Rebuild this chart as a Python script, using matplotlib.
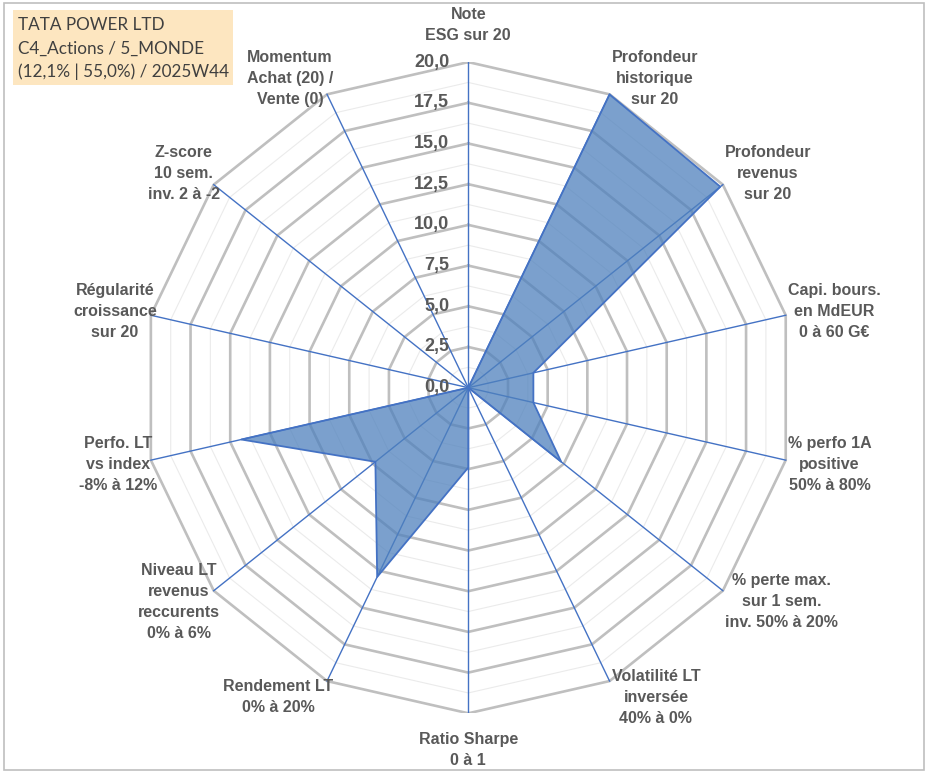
import numpy as np
import matplotlib
matplotlib.use("Agg")
from matplotlib import pyplot as plt
from matplotlib.patches import Rectangle

# axes of the radar, clockwise from the top
labels = [
    "Note\nESG sur 20",
    "Profondeur\nhistorique\nsur 20",
    "Profondeur\nrevenus\nsur 20",
    "Capi. bours.\nen MdEUR\n0 à 60 G€",
    "% perfo 1A\npositive\n50% à 80%",
    "% perte max.\nsur 1 sem.\ninv. 50% à 20%",
    "Volatilité LT\ninversée\n40% à 0%",
    "Ratio Sharpe\n0 à 1",
    "Rendement LT\n0% à 20%",
    "Niveau LT\nrevenus\nreccurents\n0% à 6%",
    "Perfo. LT\nvs index\n-8% à 12%",
    "Régularité\ncroissance\nsur 20",
    "Z-score\n10 sem.\ninv. 2 à -2",
    "Momentum\nAchat (20) /\nVente (0)",
]
scores = [0, 20, 19.8, 4.1, 4.1, 7.3, 0, 4.9, 12.9, 7.3, 14.3, 0, 0, 0]
ticks = [0, 2.5, 5, 7.5, 10, 12.5, 15, 17.5, 20]
title_lines = ["TATA POWER LTD", "C4_Actions / 5_MONDE", "(12,1% | 55,0%) / 2025W44"]

W, H = 933, 776
cx, cy, R = 468.3, 387.7, 325.6   # centre and radius in pixels

fig = plt.figure(figsize=(W / 100, H / 100), dpi=100)
fig.patch.set_facecolor("w")
ax = fig.add_axes([(cx - R) / W, (H - cy - R) / H, 2 * R / W, 2 * R / H])
ax.set_xlim(-20, 20)
ax.set_ylim(-20, 20)
ax.set_axis_off()

n = len(labels)
theta = np.arange(n) * 2 * np.pi / n
s, c = np.sin(theta), np.cos(theta)
s_closed, c_closed = np.append(s, s[0]), np.append(c, c[0])

# polygon gridlines
for lvl in np.arange(1.25, 20.01, 1.25):
    major = abs(lvl / 2.5 - round(lvl / 2.5)) < 1e-9
    ax.plot(lvl * s_closed, lvl * c_closed,
            color="#BFBFBF" if major else "#EBEBEB",
            lw=1.9 if major else 0.8, zorder=1)

# spokes
for si, ci in zip(s, c):
    ax.plot([0, 20 * si], [0, 20 * ci], color="#4472C4", lw=1.0, zorder=2)

# data
vals = np.array(scores + scores[:1])
ax.fill(vals * s_closed, vals * c_closed, facecolor="#4F81BD", alpha=0.75,
        edgecolor="none", zorder=3)
ax.plot(vals * s_closed, vals * c_closed, color="#4472C4", lw=1.3, zorder=4)

# radial tick labels
for v in ticks:
    ax.annotate(f"{v:.1f}".replace(".", ","), xy=(0, v), xytext=(-19, 0),
                textcoords="offset pixels", ha="right", va="center",
                fontsize=13, fontweight="bold", color="#595959",
                family="Liberation Sans", zorder=5)

# category labels (right side sits just outside, left side overlaps a bit)
for lab, si, ci in zip(labels, s, c):
    if abs(si) > 0.1:
        ha = "left" if si > 0 else "right"
        off = (2 if si > 0 else 6, 18 * ci)
    else:
        ha = "center"
        off = (0, 37 * ci)
    ax.annotate(lab, xy=(20 * si, 20 * ci), xytext=off,
                textcoords="offset pixels", ha=ha, va="center",
                multialignment="center", linespacing=1.5,
                fontsize=11.5, fontweight="bold", color="#595959",
                family="Liberation Sans")

# title box
fig.add_artist(Rectangle((13 / W, 1 - 85 / H), 220 / W, 75 / H,
                         transform=fig.transFigure, facecolor="#FDE6C0",
                         edgecolor="none", zorder=0))
for i, line in enumerate(title_lines):
    fig.text(18 / W, 1 - (25 + 23.5 * i) / H, line, ha="left", va="center",
             fontsize=12.3, color="#404040", family="Lato")

# frame
fig.add_artist(Rectangle((4 / W, 6 / H), 920 / W, 767 / H,
                         transform=fig.transFigure, facecolor="none",
                         edgecolor="#BFBFBF", lw=1.2))

fig.savefig("out.png", dpi=100, facecolor="w")
